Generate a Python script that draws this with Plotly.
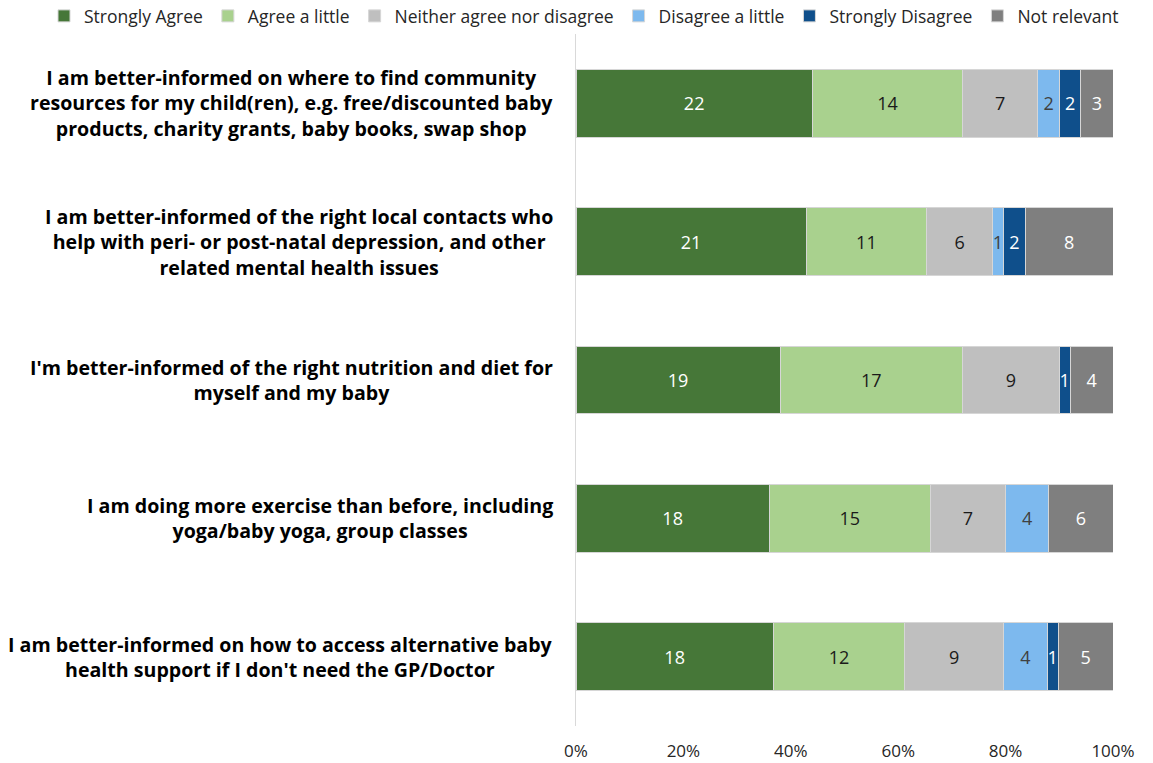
import plotly.graph_objects as go

statements = [
    "I am better-informed on where to find community<br>resources for my child(ren), e.g. free/discounted baby<br>products, charity grants, baby books, swap shop",
    "I am better-informed of the right local contacts who<br>help with peri- or post-natal depression, and other<br>related mental health issues",
    "I'm better-informed of the right nutrition and diet for<br>myself and my baby",
    "I am doing more exercise than before, including<br>yoga/baby yoga, group classes",
    "I am better-informed on how to access alternative baby<br>health support if I don't need the GP/Doctor",
]

responses = ["Strongly Agree", "Agree a little", "Neither agree nor disagree",
             "Disagree a little", "Strongly Disagree", "Not relevant"]

strongly_agree = [22, 21, 19, 18, 18]
agree_little = [14, 11, 17, 15, 12]
neither = [7, 6, 9, 7, 9]
disagree_little = [2, 1, 0, 4, 4]
strongly_disagree = [2, 2, 1, 0, 1]
not_relevant = [3, 8, 4, 6, 5]

counts = [strongly_agree, agree_little, neither, disagree_little,
          strongly_disagree, not_relevant]

colors = ["#467738", "#A9D18E", "#BFBFBF", "#7DB9EE", "#0F4F8B", "#7F7F7F"]
text_colors = ["white", "#1a1a1a", "#1a1a1a", "#404040", "white", "white"]

FONT = "Open Sans"

totals = [sum(c[i] for c in counts) for i in range(len(statements))]
ids = list(range(len(statements)))

fig = go.Figure()
for name, vals, col, tcol in zip(responses, counts, colors, text_colors):
    shares = [v / t for v, t in zip(vals, totals)]
    fig.add_trace(go.Bar(
        name=name,
        y=ids,
        x=shares,
        orientation="h",
        marker=dict(color=col, line=dict(color="#D6D6D6", width=1)),
        text=[str(v) if v else "" for v in vals],
        textposition="inside",
        insidetextanchor="middle",
        textangle=0,
        textfont=dict(color=tcol, size=18, family=FONT),
        constraintext="none",
        hoverinfo="skip",
    ))

# Centered multi-line category labels placed left of the plot area
for i, label in enumerate(statements):
    fig.add_annotation(
        x=0, xref="paper", y=i, yref="y",
        xanchor="right", yanchor="middle", xshift=-21,
        text=f"<b>{label}</b>", align="center", showarrow=False,
        font=dict(size=19.6, family=FONT, color="#000000"),
    )

fig.update_layout(
    barmode="stack",
    bargap=0.51,
    width=1153, height=763,
    margin=dict(l=576, r=40, t=34, b=37, autoexpand=False),
    paper_bgcolor="white", plot_bgcolor="white",
    font=dict(family=FONT, color="#262626"),
    uniformtext=dict(mode=False),
    legend=dict(
        orientation="h", xref="paper", yref="paper",
        x=(44 - 576) / 537, y=1 + 18 / 692, xanchor="left", yanchor="middle",
        font=dict(size=17.5, family=FONT, color="#262626"),
        traceorder="normal", itemwidth=30,
        bgcolor="rgba(0,0,0,0)",
    ),
    xaxis=dict(
        range=[0, 1], tickformat=".0%", dtick=0.2,
        showgrid=False, zeroline=False, showline=False,
        tickfont=dict(size=17, color="#262626"),
        ticks="outside", ticklen=10, tickcolor="rgba(0,0,0,0)",
    ),
    yaxis=dict(
        range=[4.5, -0.5], showticklabels=False, showgrid=False,
        zeroline=False, showline=True, linecolor="#D9D9D9", linewidth=1,
        ticks="",
    ),
)

fig.write_html("out.html")
